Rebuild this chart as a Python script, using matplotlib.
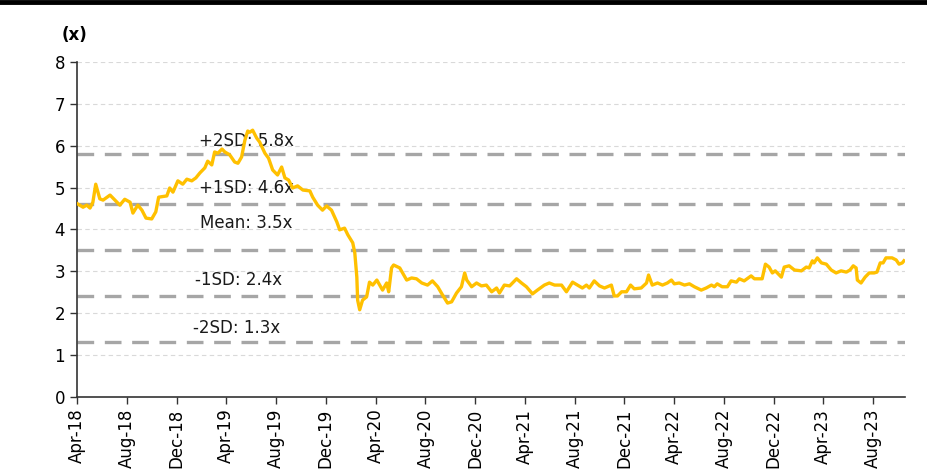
"""P/B valuation band chart: multiple vs. mean and +/- SD lines."""
import matplotlib
matplotlib.use('Agg')
import matplotlib.pyplot as plt
import matplotlib.dates as mdates
from matplotlib.lines import Line2D
import pandas as pd

# Series
DATES = [
    '2018-04-01', '2018-04-16', '2018-04-25', '2018-05-03', '2018-05-10',
    '2018-05-17', '2018-05-27', '2018-06-04', '2018-06-21', '2018-07-03',
    '2018-07-15', '2018-07-27', '2018-08-09', '2018-08-16', '2018-08-28',
    '2018-09-07', '2018-09-17', '2018-10-01', '2018-10-11', '2018-10-18',
    '2018-11-07', '2018-11-14', '2018-11-22', '2018-12-04', '2018-12-16',
    '2018-12-26', '2019-01-07', '2019-01-17', '2019-01-27', '2019-02-08',
    '2019-02-15', '2019-02-25', '2019-03-04', '2019-03-12', '2019-03-22',
    '2019-03-29', '2019-04-10', '2019-04-22', '2019-04-30', '2019-05-09',
    '2019-05-17', '2019-05-24', '2019-05-29', '2019-06-05', '2019-06-15',
    '2019-06-22', '2019-07-05', '2019-07-14', '2019-07-24', '2019-08-05',
    '2019-08-15', '2019-08-23', '2019-09-01', '2019-09-11', '2019-09-23',
    '2019-10-06', '2019-10-23', '2019-10-30', '2019-11-11', '2019-11-23',
    '2019-12-03', '2019-12-15', '2019-12-28', '2020-01-04', '2020-01-16',
    '2020-01-24', '2020-02-05', '2020-02-10', '2020-02-15', '2020-02-17',
    '2020-02-22', '2020-02-29', '2020-03-10', '2020-03-17', '2020-03-25',
    '2020-04-04', '2020-04-11', '2020-04-18', '2020-04-28', '2020-05-03',
    '2020-05-10', '2020-05-15', '2020-05-30', '2020-06-16', '2020-06-28',
    '2020-07-10', '2020-07-23', '2020-08-06', '2020-08-18', '2020-08-31',
    '2020-09-12', '2020-09-24', '2020-10-04', '2020-10-16', '2020-10-28',
    '2020-11-05', '2020-11-10', '2020-11-22', '2020-12-04', '2020-12-16',
    '2020-12-28', '2021-01-10', '2021-01-22', '2021-01-29', '2021-02-10',
    '2021-02-23', '2021-03-12', '2021-03-24', '2021-04-05', '2021-04-20',
    '2021-05-02', '2021-05-19', '2021-05-31', '2021-06-13', '2021-06-30',
    '2021-07-12', '2021-07-27', '2021-08-08', '2021-08-20', '2021-08-30',
    '2021-09-06', '2021-09-18', '2021-10-01', '2021-10-13', '2021-10-30',
    '2021-11-06', '2021-11-14', '2021-11-24', '2021-12-06', '2021-12-16',
    '2021-12-25', '2022-01-11', '2022-01-24', '2022-01-29', '2022-02-07',
    '2022-02-20', '2022-03-04', '2022-03-16', '2022-03-26', '2022-04-02',
    '2022-04-14', '2022-04-27', '2022-05-09', '2022-05-21', '2022-06-07',
    '2022-06-19', '2022-07-02', '2022-07-09', '2022-07-16', '2022-07-28',
    '2022-08-10', '2022-08-19', '2022-09-01', '2022-09-08', '2022-09-20',
    '2022-10-07', '2022-10-15', '2022-11-03', '2022-11-11', '2022-11-20',
    '2022-11-28', '2022-12-05', '2022-12-20', '2022-12-27', '2023-01-08',
    '2023-01-21', '2023-02-07', '2023-02-19', '2023-02-26', '2023-03-06',
    '2023-03-10', '2023-03-18', '2023-03-28', '2023-04-09', '2023-04-21',
    '2023-05-03', '2023-05-15', '2023-05-28', '2023-06-06', '2023-06-14',
    '2023-06-21', '2023-06-24', '2023-07-03', '2023-07-13', '2023-07-23',
    '2023-08-04', '2023-08-11', '2023-08-19', '2023-08-26', '2023-09-02',
    '2023-09-17', '2023-09-27', '2023-10-04', '2023-10-12', '2023-10-16',
]
MULTIPLE = [
    4.62, 4.53, 4.58, 4.51, 4.65, 5.08, 4.73, 4.70, 4.82, 4.70,
    4.58, 4.72, 4.65, 4.39, 4.58, 4.46, 4.27, 4.25, 4.42, 4.77,
    4.80, 4.99, 4.89, 5.16, 5.08, 5.20, 5.16, 5.23, 5.35, 5.47,
    5.63, 5.54, 5.85, 5.82, 5.92, 5.85, 5.78, 5.61, 5.58, 5.73,
    6.13, 6.35, 6.32, 6.37, 6.18, 6.09, 5.82, 5.70, 5.42, 5.30,
    5.49, 5.23, 5.18, 4.99, 5.04, 4.94, 4.92, 4.77, 4.58, 4.46,
    4.56, 4.46, 4.18, 3.99, 4.03, 3.87, 3.68, 3.44, 2.86, 2.31,
    2.08, 2.31, 2.39, 2.74, 2.67, 2.79, 2.67, 2.55, 2.72, 2.51,
    3.08, 3.15, 3.08, 2.79, 2.84, 2.82, 2.72, 2.67, 2.77, 2.63,
    2.43, 2.24, 2.27, 2.48, 2.63, 2.96, 2.79, 2.63, 2.72, 2.65,
    2.67, 2.51, 2.60, 2.48, 2.67, 2.65, 2.82, 2.72, 2.63, 2.46,
    2.55, 2.67, 2.72, 2.67, 2.67, 2.51, 2.74, 2.67, 2.60, 2.67,
    2.60, 2.77, 2.65, 2.60, 2.67, 2.41, 2.41, 2.51, 2.51, 2.67,
    2.58, 2.60, 2.72, 2.91, 2.67, 2.72, 2.67, 2.72, 2.79, 2.70,
    2.72, 2.67, 2.70, 2.63, 2.55, 2.60, 2.67, 2.63, 2.70, 2.63,
    2.63, 2.77, 2.74, 2.82, 2.77, 2.89, 2.82, 2.82, 3.17, 3.10,
    2.96, 3.01, 2.86, 3.10, 3.13, 3.03, 3.01, 3.10, 3.08, 3.25,
    3.20, 3.32, 3.20, 3.17, 3.03, 2.96, 3.01, 2.98, 3.03, 3.13,
    3.08, 2.79, 2.72, 2.86, 2.96, 2.96, 2.98, 3.20, 3.20, 3.32,
    3.32, 3.27, 3.17, 3.20, 3.25,
]

BAND_LABELS = ['+2SD: 5.8x', '+1SD: 4.6x', 'Mean: 3.5x', '-1SD: 2.4x', '-2SD: 1.3x']
BAND_VALUES = [5.8, 4.6, 3.5, 2.4, 1.3]
LABEL_Y = [6.12, 5.0, 4.15, 2.8, 1.65]
LABEL_X = ['2019-01-24', '2019-01-24', '2019-01-28', '2019-01-14', '2019-01-10']

LINE_COLOR = '#FFC000'
BAND_COLOR = '#A6A6A6'


def main():
    dates = pd.to_datetime(DATES)
    x_start = pd.Timestamp('2018-04-01')
    x_end = pd.Timestamp('2023-10-18')

    fig = plt.figure(figsize=(9.27, 4.73), dpi=100)
    ax = fig.add_axes([0.083, 0.161, 0.893, 0.708])

    # Light integer gridlines
    for y in range(1, 9):
        ax.axhline(y, color='#D9D9D9', lw=0.8, dashes=(4, 3), zorder=1)

    # Mean / SD band lines with their labels (line is drawn over the labels)
    for value in BAND_VALUES:
        ax.axhline(value, color=BAND_COLOR, lw=2.4, dashes=(5, 3.2), zorder=2)
    for label, lx, ly in zip(BAND_LABELS, LABEL_X, LABEL_Y):
        ax.text(pd.Timestamp(lx), ly, label, fontsize=12, color='#1a1a1a',
                ha='left', va='center', zorder=2.5)

    ax.plot(dates, MULTIPLE, color=LINE_COLOR, lw=2.4, zorder=3)

    # Axes formatting
    ax.set_xlim(x_start, x_end)
    ax.set_ylim(0, 8)
    ax.set_yticks(range(0, 9))
    ax.xaxis.set_major_locator(mdates.MonthLocator(bymonth=[4, 8, 12]))
    ax.xaxis.set_major_formatter(mdates.DateFormatter('%b-%y'))
    plt.setp(ax.get_xticklabels(), rotation=90)
    ax.tick_params(axis='both', labelsize=12, length=5, width=1,
                   color='#333333', direction='out')
    for side in ['top', 'right']:
        ax.spines[side].set_visible(False)
    for side in ['left', 'bottom']:
        ax.spines[side].set_color('#333333')
        ax.spines[side].set_linewidth(1.2)

    fig.text(0.067, 0.925, '(x)', fontsize=12, fontweight='bold',
             ha='left', va='center')

    # Thick rule across the top of the figure
    fig.add_artist(Line2D([0, 1], [0.996, 0.996], color='black', lw=3.5,
                          transform=fig.transFigure))

    fig.savefig('out.png', dpi=100)
    plt.close(fig)


if __name__ == '__main__':
    main()
